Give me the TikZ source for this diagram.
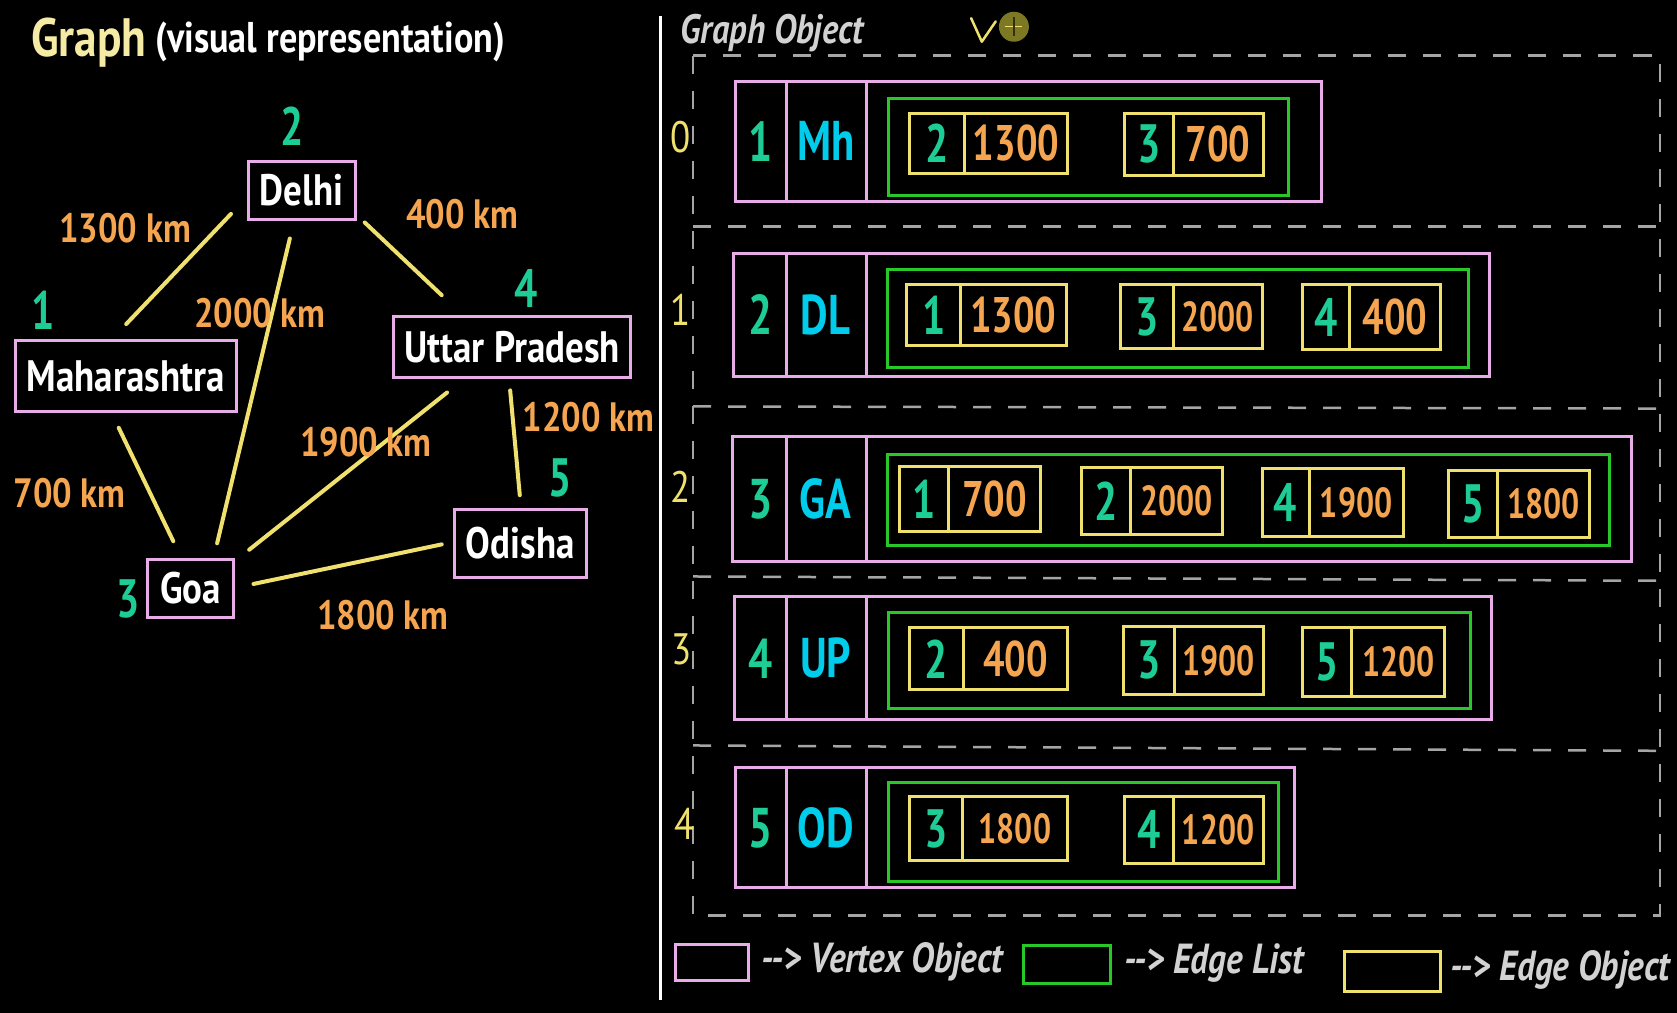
\documentclass[tikz,border=0pt]{standalone}
\usepackage{fontspec}
\newfontfamily\cf{PT Sans}[FakeStretch=0.76]
\newfontfamily\cfw{PT Sans}[FakeStretch=0.84]
\definecolor{vpink}{RGB}{232,172,232}
\definecolor{elgreen}{RGB}{40,200,40}
\definecolor{eyellow}{RGB}{240,225,110}
\definecolor{numgreen}{RGB}{30,205,150}
\definecolor{abcyan}{RGB}{0,205,235}
\definecolor{korange}{RGB}{245,165,80}
\definecolor{titlecream}{RGB}{245,235,165}
\definecolor{lgrey}{RGB}{210,210,210}
\definecolor{dgrey}{RGB}{165,165,165}
\definecolor{cursorol}{RGB}{125,120,35}
\newcommand\fs[1]{\fontsize{#1}{#1}\selectfont}
\newcommand\vertexrow[7]{%
  \draw[vline] (#2,#3) rectangle (#4,#5);
  \draw[vline] (735,#3) -- (735,#5) (810,#3) -- (810,#5);
  \pgfmathsetmacro\midy{(#3+#5)/2}
  \node[rnum] (#1n) at (711,\midy) {#6};
  \node[rabbr] (#1a) at (772,\midy) {#7};
}
\newcommand\edgeobj[9]{%
  \draw[eline] (#2,#3) rectangle (#4,#5);
  \draw[eline] (#6,#3) -- (#6,#5);
  \pgfmathsetmacro\midy{(#3+#5)/2}
  \pgfmathsetmacro\lx{(#2+#6)/2}
  \pgfmathsetmacro\rx{(#6+#4)/2}
  \node[ednum] (#1n) at (\lx,\midy) {#7};
  \node[#9] (#1v) at (\rx,\midy) {#8};
}
\begin{document}
\begin{tikzpicture}[x=1.0695pt,y=-1.0695pt,
  txt/.style={inner sep=0pt,font=\cf\bfseries},
  city/.style={draw=vpink,line width=3pt,txt,text=white,font=\cfw\bfseries\fs{44},minimum height=58pt},
  gnum/.style={txt,text=numgreen,font=\cf\bfseries\fs{54}},
  dist/.style={txt,text=korange,font=\cfw\bfseries\fs{41}},
  road/.style={eyellow,line width=4pt,line cap=round},
  vline/.style={vpink,line width=3pt},
  gline/.style={elgreen,line width=3pt},
  eline/.style={eyellow,line width=3pt},
  rnum/.style={txt,text=numgreen,font=\cf\bfseries\fs{56}},
  rabbr/.style={txt,text=abcyan,font=\cf\bfseries\fs{56}},
  ednum/.style={txt,text=numgreen,font=\cf\bfseries\fs{54}},
  evbig/.style={txt,text=korange,font=\cf\bfseries\fs{50}},
  evsmall/.style={txt,text=korange,font=\cf\bfseries\fs{42}},
  ridx/.style={txt,text=eyellow,font=\cfw\fs{44}},
  dline/.style={dgrey,line width=2.5pt,dash pattern=on 18pt off 17pt},
  legtxt/.style={txt,text=lgrey,font=\cfw\bfseries\itshape\fs{42},anchor=base west}]
\fill[black] (0,0) rectangle (1568,947);
\useasboundingbox (0,0) rectangle (1568,947);

% ---------- left: visual graph ----------
\node[txt,text=titlecream,font=\cfw\bfseries\fs{54},anchor=base west] (title) at (29,53) {Graph};
\node[txt,text=white,font=\cfw\bfseries\fs{43},anchor=base west] (subtitle) at (145,49) {(visual representation)};

\node[city,minimum width=107pt] (dl) at (282,178) {Delhi};
\node[city,minimum width=221pt,minimum height=71pt] (mh) at (117.5,352) {Maharashtra};
\node[city,minimum width=237pt,minimum height=61pt] (up) at (479,324.5) {Uttar Pradesh};
\node[city,minimum width=86pt] (ga) at (178,550) {Goa};
\node[city,minimum width=132pt,minimum height=68pt] (od) at (486.5,508) {Odisha};

\node[gnum] (n2) at (273,118) {2};
\node[gnum] (n1) at (40,290) {1};
\node[gnum] (n4) at (492,270) {4};
\node[gnum] (n3) at (120,560) {3};
\node[gnum] (n5) at (524,447) {5};

\coordinate (dlmh) at (216,200); \coordinate (mhdl) at (118,303);
\coordinate (dlga) at (271,223); \coordinate (gadl) at (203,508);
\coordinate (dlup) at (341,208); \coordinate (updl) at (413,276);
\coordinate (mhga) at (111,400); \coordinate (gamh) at (162,506);
\coordinate (upga) at (418,367); \coordinate (gaup) at (233,514);
\coordinate (upod) at (477,365); \coordinate (odup) at (486,463);
\coordinate (gaod) at (237,546); \coordinate (odga) at (413,509);
\draw[road] (dlmh) -- (mhdl);
\draw[road] (dlga) -- (gadl);
\draw[road] (dlup) -- (updl);
\draw[road] (mhga) -- (gamh);
\draw[road] (upga) -- (gaup);
\draw[road] (upod) -- (odup);
\draw[road] (gaod) -- (odga);

\node[dist] (d13) at (117,213) {1300 km};
\node[dist] (d23) at (243,293) {2000 km};
\node[dist] (d24) at (432,200) {400 km};
\node[dist] (d13b) at (65,461) {700 km};
\node[dist] (d34) at (342,413) {1900 km};
\node[dist] (d45) at (550,390) {1200 km};
\node[dist] (d35) at (358,575) {1800 km};

% divider
\draw[white,line width=3pt] (618,15) -- (618,935);

% ---------- right: graph object ----------
\node[txt,text=lgrey,font=\cfw\bfseries\itshape\fs{41},anchor=base west] (gobj) at (636,41) {Graph Object};
\draw[eyellow,line width=2.5pt,line cap=round,line join=round] (908,17) -- (918,39) -- (931,20);
\fill[cursorol] (948,25) circle (15pt);
\draw[eyellow,line width=1.5pt] (940,25) -- (956,25);
\draw[black!60!cursorol,line width=1.2pt] (948,16) -- (948,34);

\draw[dline] (648,52) rectangle (1552,856);
\draw[dline] (648,212) -- (1552,212);
\draw[dline] (648,380) -- (1552,382);
\draw[dline] (648,539) -- (1552,543);
\draw[dline] (648,697) -- (1552,702);

\node[ridx] (i0) at (636,128) {0};
\node[ridx] (i1) at (636,290) {1};
\node[ridx] (i2) at (636,455) {2};
\node[ridx] (i3) at (637,607) {3};
\node[ridx] (i4) at (640,770) {4};

% row 0
\vertexrow{r0}{688}{76}{1236}{188}{1}{Mh}
\draw[gline] (831,92) rectangle (1205,183);
\edgeobj{e01}{850}{106}{998}{162}{902}{2}{1300}{evbig}
\edgeobj{e02}{1051}{106}{1181}{164}{1097}{3}{700}{evbig}
% row 1
\vertexrow{r1}{686}{237}{1393}{352}{2}{DL}
\draw[gline] (830,252) rectangle (1373,344);
\edgeobj{e11}{848}{266}{997}{323}{898}{1}{1300}{evbig}
\edgeobj{e12}{1048}{266}{1180}{326}{1097}{3}{2000}{evsmall}
\edgeobj{e13}{1218}{266}{1347}{327}{1262}{4}{400}{evbig}
% row 2
\vertexrow{r2}{685}{408}{1525}{525}{3}{GA}
\draw[gline] (830,425) rectangle (1505,510);
\edgeobj{e21}{841}{436}{973}{497}{887}{1}{700}{evbig}
\edgeobj{e22}{1011}{437}{1143}{500}{1057}{2}{2000}{evsmall}
\edgeobj{e23}{1180}{438}{1312}{502}{1224}{4}{1900}{evsmall}
\edgeobj{e24}{1354}{440}{1486}{503}{1400}{5}{1800}{evsmall}
% row 3
\vertexrow{r3}{687}{558}{1395}{673}{4}{UP}
\draw[gline] (831,573) rectangle (1375,662);
\edgeobj{e31}{850}{587}{998}{645}{901}{2}{400}{evbig}
\edgeobj{e32}{1050}{586}{1181}{649}{1098}{3}{1900}{evsmall}
\edgeobj{e33}{1218}{587}{1351}{651}{1264}{5}{1200}{evsmall}
% row 4
\vertexrow{r4}{688}{718}{1210}{830}{5}{OD}
\draw[gline] (831,732) rectangle (1195,824);
\edgeobj{e41}{850}{745}{998}{805}{900}{3}{1800}{evsmall}
\edgeobj{e42}{1051}{745}{1181}{807}{1097}{4}{1200}{evsmall}

% ---------- legend ----------
\draw[vline] (632,883) rectangle (700,917);
\node[legtxt] (l1) at (712,909) {-{}-> Vertex Object};
\draw[gline] (957,884) rectangle (1038,920);
\node[legtxt] (l2) at (1051,910) {-{}-> Edge List};
\draw[eline] (1257,890) rectangle (1347,927);
\node[legtxt] (l3) at (1356,917) {-{}-> Edge Object};
\end{tikzpicture}
\end{document}
